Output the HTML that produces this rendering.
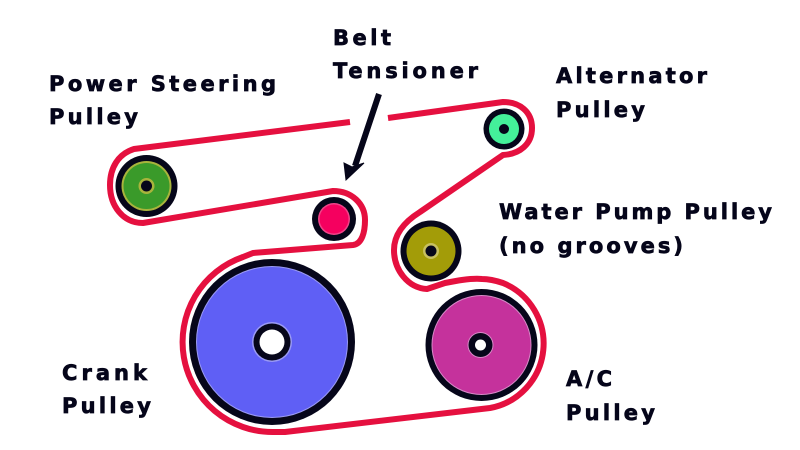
<!DOCTYPE html>
<html><head><meta charset="utf-8"><style>
html,body{margin:0;padding:0;background:#fff}
svg{display:block}
text{font-family:"DejaVu Sans","Liberation Sans",sans-serif;font-weight:bold;font-size:21px;fill:#05051a;stroke:#05051a;stroke-width:.7px}
</style></head><body>
<svg width="800" height="450" viewBox="0 0 800 450" xmlns="http://www.w3.org/2000/svg">
<rect width="800" height="450" fill="#fff"/>
<!-- belt -->
<path d="M350 122 L134 149 C118 154 110 168 110 185 C110 206 123 223 143 223 L333 191 C352 191 365 204 365 220 C365 232 362 244 353 245 L253 253 L243 257 A90 90 0 0 0 273 432 L285 432 L490 408 A65.500 65.500 0 0 0 503 283 C497 281 488 279 482 279 C470 278 455 281 445 283 L427 289 C408 288 394 270 394 250 C394 234 404 222 420 212 L503 155 C520 154 532 144 532 128 C532 112 520 102 503 102 L388 118" fill="none" stroke="#e5103f" stroke-width="6" stroke-linejoin="round"/>
<!-- power steering -->
<circle cx="146.500" cy="186" r="31" fill="#06061a"/>
<circle cx="146.500" cy="186" r="25" fill="#a8b43c"/>
<circle cx="146.500" cy="186" r="23" fill="#3a9a2a"/>
<circle cx="146.500" cy="186" r="8" fill="#a8b43c"/>
<circle cx="146.500" cy="186" r="5.500" fill="#06061a"/>
<!-- tensioner -->
<circle cx="334" cy="219" r="22" fill="#06061a"/>
<circle cx="334" cy="219" r="16" fill="#f0448a"/>
<circle cx="334" cy="219" r="14.500" fill="#f5005f"/>
<!-- alternator -->
<circle cx="504" cy="129" r="20.500" fill="#06061a"/>
<circle cx="504" cy="129" r="15" fill="#44f09a"/>
<circle cx="504" cy="129" r="5" fill="#06061a"/>
<!-- water pump -->
<circle cx="431" cy="251" r="30.500" fill="#06061a"/>
<circle cx="431" cy="251" r="24.500" fill="#a39c08"/>
<circle cx="431" cy="251" r="8" fill="#c8c060"/>
<circle cx="431" cy="251" r="5.500" fill="#06061a"/>
<!-- crank -->
<circle cx="272" cy="342" r="83" fill="#06061a"/>
<circle cx="272" cy="342" r="76" fill="#9a9af5"/>
<circle cx="272" cy="342" r="75" fill="#5f5ff5"/>
<circle cx="272" cy="342" r="20" fill="#9a9af5"/>
<circle cx="272" cy="342" r="18.500" fill="#06061a"/>
<circle cx="272" cy="342" r="12.500" fill="#fff"/>
<!-- ac -->
<circle cx="481.500" cy="345" r="56" fill="#06061a"/>
<circle cx="481.500" cy="345" r="50" fill="#d88ac8"/>
<circle cx="481.500" cy="345" r="49" fill="#c5329c"/>
<circle cx="480.500" cy="345" r="13" fill="#d88ac8"/>
<circle cx="480.500" cy="345" r="12" fill="#06061a"/>
<circle cx="480.500" cy="345" r="5.500" fill="#fff"/>
<!-- arrow -->
<path d="M379 94 L355 166" fill="none" stroke="#06061a" stroke-width="6"/>
<path d="M346 180 L344 163 L352 167 L364 163 Z" fill="#06061a" stroke="#06061a" stroke-width="1"/>
<!-- labels -->
<text x="333" y="45" textLength="58" lengthAdjust="spacing">Belt</text>
<text x="333" y="78" textLength="145" lengthAdjust="spacing">Tensioner</text>
<text x="49" y="91" textLength="227" lengthAdjust="spacing">Power Steering</text>
<text x="49" y="124" textLength="89" lengthAdjust="spacing">Pulley</text>
<text x="556" y="83" textLength="151" lengthAdjust="spacing">Alternator</text>
<text x="556" y="117" textLength="89" lengthAdjust="spacing">Pulley</text>
<text x="499" y="219" textLength="273" lengthAdjust="spacing">Water Pump Pulley</text>
<text x="499" y="253" textLength="184" lengthAdjust="spacing">(no grooves)</text>
<text x="62" y="380" textLength="85" lengthAdjust="spacing">Crank</text>
<text x="62" y="413" textLength="89" lengthAdjust="spacing">Pulley</text>
<text x="566" y="386" textLength="46" lengthAdjust="spacing">A/C</text>
<text x="566" y="420" textLength="89" lengthAdjust="spacing">Pulley</text>
</svg>
</body></html>
